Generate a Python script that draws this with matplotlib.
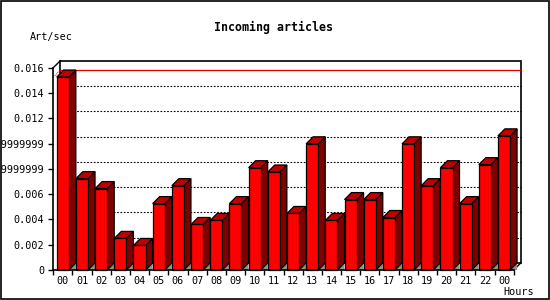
import matplotlib.pyplot as plt
import matplotlib.patches as patches

hours = ["00", "01", "02", "03", "04", "05", "06", "07", "08", "09", "10", "11",
         "12", "13", "14", "15", "16", "17", "18", "19", "20", "21", "22", "00"]
rates = [0.01526, 0.00723, 0.00644, 0.00250, 0.00194, 0.00525, 0.00667, 0.00360,
         0.00392, 0.00525, 0.00809, 0.00775, 0.00447, 0.00998, 0.00392, 0.00557,
         0.00557, 0.00415, 0.00998, 0.00667, 0.00809, 0.00525, 0.00833, 0.01061]
ytick_vals = [0, 0.002, 0.004, 0.006, 0.008, 0.010, 0.012, 0.014, 0.016]
ytick_labels = ["0", "0.002", "0.004", "0.006", "0.00799999999", "0.00999999999",
                "0.012", "0.014", "0.016"]

W, H = 550, 300
fig = plt.figure(figsize=(5.5, 3), dpi=100)
x0, x1, ybot, ytop = 53.3, 513.7, 270, 67.7
ax = fig.add_axes([x0 / W, (H - ybot) / H, (x1 - x0) / W, (ybot - ytop) / H])
n = len(rates)
ymax = 0.016
ax.set_xlim(0, n)
ax.set_ylim(0, ymax)

# 3D depth, 7 px right and up
dx = 7 / ((x1 - x0) / n)
dy = 7 * ymax / (ybot - ytop)

mono = "DejaVu Sans Mono"

# back wall
ax.add_patch(patches.Rectangle((dx, dy), n, ymax, facecolor="white", edgecolor="black",
                               lw=1.2, clip_on=False, zorder=1))
ax.plot([0, dx], [ymax, ymax + dy], color="black", lw=1, clip_on=False, zorder=1)
ax.plot([n, n + dx], [0, dy], color="black", lw=1, clip_on=False, zorder=1)

# dashed grid on the back wall
for v in ytick_vals[1:-1]:
    ax.plot([dx, n + dx], [v + dy, v + dy], color="black", lw=0.8,
            linestyle=(0, (1.5, 1.5)), clip_on=False, zorder=2)

# max line
vmax = max(rates)
ax.plot([dx, n + dx], [vmax + dy, vmax + dy], color="#e00000", lw=0.9, clip_on=False, zorder=2)
ax.plot([0, dx], [vmax, vmax + dy], color="#e00000", lw=0.7, linestyle=(0, (1, 1)),
        clip_on=False, zorder=2)

# bars
bw = 0.63
off = 0.18
for i, v in enumerate(rates):
    l = i + off
    r = l + bw
    ax.add_patch(patches.Polygon([(r, 0), (r + dx, dy), (r + dx, 0)], closed=True,
                                 facecolor="#909090", edgecolor="none", clip_on=False, zorder=3))
    ax.add_patch(patches.Polygon([(r, 0), (r + dx, dy), (r + dx, v + dy), (r, v)], closed=True,
                                 facecolor="#800000", edgecolor="black", lw=0.9,
                                 clip_on=False, zorder=4))
    ax.add_patch(patches.Polygon([(l, v), (l + dx, v + dy), (r + dx, v + dy), (r, v)], closed=True,
                                 facecolor="#c00000", edgecolor="black", lw=0.9,
                                 clip_on=False, zorder=4))
    ax.add_patch(patches.Rectangle((l, 0), bw, v, facecolor="#ff0000", edgecolor="black",
                                   lw=0.9, clip_on=False, zorder=5))

# axes
for s in ["top", "right"]:
    ax.spines[s].set_visible(False)
ax.spines["left"].set_linewidth(1.2)
ax.spines["bottom"].set_linewidth(1.2)
ax.spines["left"].set_zorder(6)
ax.spines["bottom"].set_zorder(6)
ax.set_facecolor("none")

ax.set_yticks(ytick_vals)
ax.set_yticklabels(ytick_labels, family=mono, fontsize=7.3)
ax.tick_params(axis="y", direction="out", length=3.5, width=1, pad=3)

ax.set_xticks([i + 0.5 for i in range(n)])
ax.set_xticklabels(hours, family=mono, fontsize=7.3)
ax.set_xticks(range(n + 1), minor=True)
ax.tick_params(axis="x", which="major", length=0, pad=4.5)
ax.tick_params(axis="x", which="minor", direction="out", length=3.5, width=1)

fig.text(274 / W, 1 - 27 / H, "Incoming articles", family=mono, fontweight="bold",
         fontsize=8.4, ha="center", va="center")
fig.text(30 / W, 1 - 37 / H, "Art/sec", family=mono, fontsize=7.3, ha="left", va="center")
fig.text(534 / W, 1 - 292 / H, "Hours", family=mono, fontsize=7.3, ha="right", va="center")

# outer frame
fig.patches.append(patches.Rectangle((0.5 / W, 1.5 / H), 548 / W, 297.5 / H,
                                     transform=fig.transFigure, fill=False,
                                     edgecolor="black", lw=1.2))

fig.savefig("out.png", dpi=100)
